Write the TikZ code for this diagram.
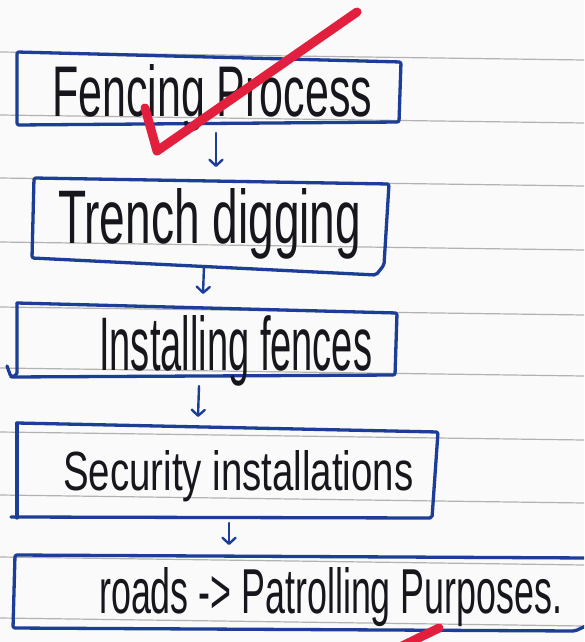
\documentclass[tikz,border=0pt]{standalone}
\usepackage{fontspec}
\setmainfont{Liberation Sans}
\usepackage{graphicx}
\usetikzlibrary{arrows.meta}
\definecolor{ink}{RGB}{22,22,28}
\definecolor{bluepen}{RGB}{28,62,150}
\definecolor{redpen}{RGB}{226,32,62}
\definecolor{ruleclr}{RGB}{178,178,178}
\definecolor{paper}{RGB}{250,250,250}
\begin{document}
\begin{tikzpicture}[x=1pt,y=-1pt,
  boxline/.style={draw=bluepen,line width=3.3pt,line join=round,line cap=round,rounded corners=2pt},
  arr/.style={draw=bluepen,line width=2.4pt,line cap=round,-{Straight Barb[length=6pt,width=13pt,round]}},
  hand/.style={inner sep=0pt,anchor=base west,text=ink},
  ruleline/.style={draw=ruleclr,line width=1.2pt},
  check/.style={draw=redpen,line width=9pt,line cap=round,line join=round}]
\useasboundingbox (0,0) rectangle (584,642);
\clip (0,0) rectangle (584,642);
\fill[paper] (0,0) rectangle (584,642);
% notebook rules
\foreach \y in {52,115,178,242,307,368,432,495,557,618}
  \draw[ruleline] (0,\y) -- (584,\y+8);
% boxes
\draw[boxline] (17,52) -- (401,62) -- (399,122) -- (17,125) -- cycle;
\draw[boxline] (34,178) -- (389,184) -- (384,265) -- (376,275) -- (32,258) -- cycle;
\draw[boxline] (17,303) -- (397,313) -- (395,375) -- (11,377) -- (7,366);
\draw[boxline] (11,377) -- (17,375) -- (17,303);
\draw[boxline] (17,423) -- (438,432) -- (432,518) -- (11,517);
\draw[boxline] (17,518) -- (17,423);
\draw[boxline] (590,558) -- (15,555) -- (13,628) -- (575,631) -- (590,624);
% texts
\node[hand] (t1) at (52,117) {\resizebox{320pt}{52pt}{Fencing Process}};
\node[hand] (t2) at (58,243) {\resizebox{303pt}{55pt}{Trench digging}};
\node[hand] (t3) at (99,370) {\resizebox{273pt}{55pt}{Installing fences}};
\node[hand] (t4) at (63,490) {\resizebox{350pt}{40pt}{Security installations}};
\node[hand] (t5) at (99,613) {\resizebox{463pt}{46pt}{roads -> Patrolling Purposes.}};
% arrows
\coordinate (a1s) at (216,133); \coordinate (a1e) at (216,167);
\coordinate (a2s) at (204,266); \coordinate (a2e) at (203,294);
\coordinate (a3s) at (199,386); \coordinate (a3e) at (198,417);
\coordinate (a4s) at (229,523); \coordinate (a4e) at (229,545);
\draw[arr] (a1s) -- (a1e);
\draw[arr] (a2s) -- (a2e);
\draw[arr] (a3s) -- (a3e);
\draw[arr] (a4s) -- (a4e);
% red marks
\coordinate (c1) at (145,108); \coordinate (c2) at (157,151); \coordinate (c3) at (357,12);
\draw[check] (c1) -- (c2) -- (c3);
\coordinate (r1) at (398,648); \coordinate (r2) at (439,628);
\draw[check] (r1) -- (r2);
\end{tikzpicture}
\end{document}
